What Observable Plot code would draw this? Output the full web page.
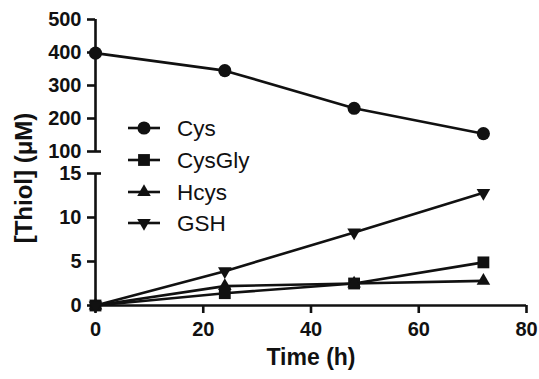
<!DOCTYPE html>
<html>
<head>
<meta charset="utf-8">
<script src="https://cdn.jsdelivr.net/npm/d3@7"></script>
<script src="https://cdn.jsdelivr.net/npm/@observablehq/plot@0.6"></script>
<style>
  html, body { margin: 0; padding: 0; background: #fff; }
  #chart { position: relative; width: 539px; height: 379px; font-family: "Liberation Sans", Arial, Helvetica, sans-serif; }
  #chart svg { position: absolute; left: 0; top: 0; }
</style>
</head>
<body>
<div id="chart"></div>
<script>
// ---- data ----
const time = [0, 24, 48, 72];
const cys = [398, 345, 231, 154];
const cysgly = [0, 1.4, 2.5, 4.9];
const hcys = [0, 2.2, 2.5, 2.8];
const gsh = [0, 3.9, 8.3, 12.8];
const seriesNames = ["Cys", "CysGly", "Hcys", "GSH"];
const xTicks = [0, 20, 40, 60, 80];
const yTicksUpper = [100, 200, 300, 400, 500];
const yTicksLower = [0, 5, 10, 15];
const xLabel = "Time (h)";
const yLabel = "[Thiol] (μM)";

// ---- symbols ----
const s3 = Math.sqrt(3);
const triUp = { draw(c, size) { const y = -Math.sqrt(size / (s3 * 3)); c.moveTo(0, y * 2); c.lineTo(-s3 * y, -y); c.lineTo(s3 * y, -y); c.closePath(); } };
const triDown = { draw(c, size) { const y = Math.sqrt(size / (s3 * 3)); c.moveTo(0, y * 2); c.lineTo(-s3 * y, -y); c.lineTo(s3 * y, -y); c.closePath(); } };
const symbols = { Cys: d3.symbolCircle, CysGly: d3.symbolSquare, Hcys: triUp, GSH: triDown };
const sizes = { Cys: 135, CysGly: 140, Hcys: 80, GSH: 80 };

const ink = "#111";
const font = "Liberation Sans, Arial, Helvetica, sans-serif";
const rows = (vals, name) => time.map((t, i) => ({ t, v: vals[i], name }));
const upperData = rows(cys, "Cys");
const lowerData = [...rows(cysgly, "CysGly"), ...rows(hcys, "Hcys"), ...rows(gsh, "GSH")];

const W = 539;
const common = {
  width: W,
  marginLeft: 95,
  marginRight: 13,
  style: { background: "transparent", fontFamily: font, fontSize: "20px", fontWeight: "bold", color: ink, overflow: "visible" },
  x: { domain: [0, 80] }
};

function seriesMarks(data) {
  const marks = [];
  for (const name of seriesNames) {
    const d = data.filter(r => r.name === name);
    if (!d.length) continue;
    marks.push(Plot.line(d, { x: "t", y: "v", stroke: ink, strokeWidth: 2.6 }));
    marks.push(Plot.dot(d, { x: "t", y: "v", symbol: symbols[name], r: Math.sqrt(sizes[name] / Math.PI), fill: ink, stroke: "none" }));
  }
  return marks;
}

const lower = Plot.plot({
  ...common,
  height: 379,
  marginTop: 173,
  marginBottom: 74,
  y: { domain: [0, 15] },
  marks: [
    Plot.ruleX([0], { stroke: ink, strokeWidth: 2.6 }),
    Plot.ruleY([0], { stroke: ink, strokeWidth: 2.6 }),
    Plot.axisY({ ticks: yTicksLower, tickSize: 8, tickPadding: 6, strokeWidth: 2.6, label: null }),
    Plot.axisY({ ticks: [15], tickSize: -6, tickFormat: () => "", strokeWidth: 2.6, label: null }),
    Plot.axisX({ ticks: xTicks, tickSize: 8, tickPadding: 8, strokeWidth: 2.6, label: null }),
    ...seriesMarks(lowerData),
    Plot.text([xLabel], { frameAnchor: "bottom", dy: 59, fontSize: 23, fontWeight: "bold", fill: ink })
  ]
});

const upper = Plot.plot({
  ...common,
  height: 160,
  marginTop: 19,
  marginBottom: 9,
  y: { domain: [100, 500] },
  marks: [
    Plot.ruleX([0], { stroke: ink, strokeWidth: 2.6 }),
    Plot.axisY({ ticks: yTicksUpper, tickSize: 8, tickPadding: 6, strokeWidth: 2.6, label: null }),
    Plot.axisY({ ticks: [100], tickSize: -6, tickFormat: () => "", strokeWidth: 2.6, label: null }),
    Plot.axisX({ ticks: [], label: null }),
    ...seriesMarks(upperData)
  ]
});

const chart = document.getElementById("chart");
chart.appendChild(lower);
chart.appendChild(upper);

// ---- legend + shared y label ----
const overlay = d3.select(chart).append("svg")
  .attr("width", W).attr("height", 379)
  .style("overflow", "visible");
overlay.append("text")
  .attr("transform", "translate(24,178) rotate(-90)")
  .attr("text-anchor", "middle").attr("dy", "0.35em")
  .attr("font-family", font).attr("font-weight", "bold")
  .attr("font-size", 24).attr("fill", ink).text(yLabel);
const rowY = [128, 160, 192, 223];
seriesNames.forEach((name, i) => {
  const g = overlay.append("g").attr("transform", `translate(144,${rowY[i]})`);
  g.append("line").attr("x1", -16).attr("x2", 16).attr("stroke", ink).attr("stroke-width", 2.6);
  g.append("path").attr("d", d3.symbol(symbols[name], sizes[name])()).attr("fill", ink);
  g.append("text").attr("x", 33).attr("dy", "0.36em")
    .attr("font-family", font)
    .attr("font-size", 22.5).attr("fill", ink).text(name);
});
</script>
</body>
</html>
